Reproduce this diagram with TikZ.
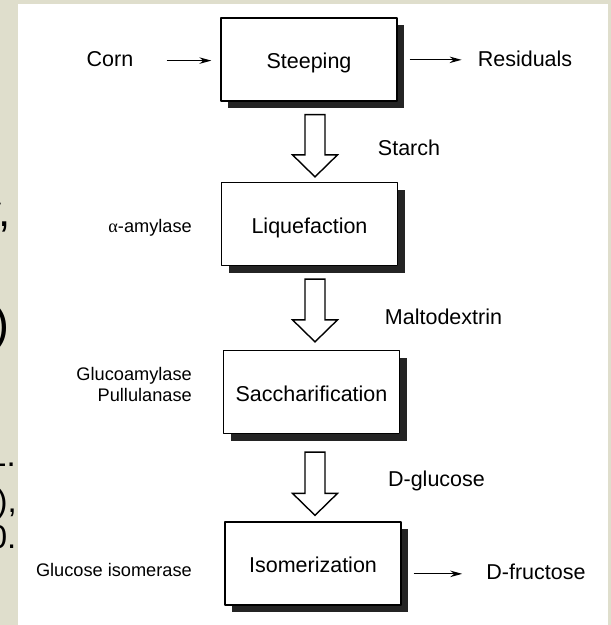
\documentclass[tikz,border=0pt]{standalone}
\usepackage{fontspec}
\setmainfont{Liberation Sans}
\newfontfamily\greekfont{Liberation Serif}
\usetikzlibrary{arrows.meta,shadows,calc}
\definecolor{pagebeige}{RGB}{223,222,204}
\definecolor{shadowgray}{RGB}{36,36,36}

\begin{document}
\begin{tikzpicture}[x=1pt, y=-1pt, line join=round, >={Stealth[length=12pt,width=6.5pt]},
	stage/.style={draw, line width=1.3pt, fill=white, minimum width=176pt, minimum height=83pt, inner sep=0pt,
		text height=18pt, text depth=0pt, font=\fontsize{21.5}{24}\selectfont,
		drop shadow={shadow xshift=7pt, shadow yshift=-7pt, fill=shadowgray, opacity=1}},
	product/.style={inner sep=0pt, anchor=base, font=\fontsize{21.5}{24}\selectfont},
	enzyme/.style={inner sep=0pt, anchor=base east, font=\fontsize{18.2}{20}\selectfont},
	frag/.style={inner sep=0pt, anchor=base east},
	flow/.style={->, line width=1.2pt},
	blockarrow/.style={draw, line width=1.4pt, fill=white, line join=miter,
		to path={let \p1=(\tikztostart), \p2=(\tikztotarget) in
			(\x1-10pt,\y1) -- (\x1+10pt,\y1) -- (\x1+10pt,\y2+22pt) -- (\x1+22.5pt,\y2+22pt)
			-- (\x1,\y2) -- (\x1-22.5pt,\y2+22pt) -- (\x1-10pt,\y2+22pt) -- cycle}}]
	\useasboundingbox (0,0) rectangle (611,625);
	% nền trang
	\fill[pagebeige] (0,0) rectangle (611,625);
	% chữ bị cắt ở mép trái
	\node[frag, font=\fontsize{44}{48}\selectfont] (fy) at (11,226) {y,};
	\node[frag, font=\fontsize{48}{52}\selectfont] (fp) at (10,340) {)};
	\node[frag, font=\fontsize{33}{36}\selectfont] (fone) at (16,466) {1.};
	\node[frag, font=\fontsize{33}{36}\selectfont] (fpc) at (17,512) {),};
	\node[frag, font=\fontsize{33}{36}\selectfont] (fzero) at (16.5,548) {0.};
	\fill[white] (17.5,4) rectangle (608,625);
	
	% các công đoạn
	\node[stage] (steep) at (309,59.5)  {Steeping};
	\node[stage] (liq)   at (309.5,224) {Liquefaction};
	\node[stage] (sacc)  at (311.5,392) {Saccharification};
	\node[stage] (iso)   at (313,563.5) {Isomerization};
	
	% sản phẩm
	\node[product] (corn)   at (110,66)     {Corn};
	\node[product] (resid)  at (525,66)     {Residuals};
	\node[product] (starch) at (409,155)    {Starch};
	\node[product] (malto)  at (443.5,324)  {Maltodextrin};
	\node[product] (dglu)   at (436.5,486.5){D-glucose};
	\node[product] (dfru)   at (536,579.5)  {D-fructose};
	
	% enzym
	\node[enzyme] (amyl)  at (192,232)   {{\greekfont α}-amylase};
	\node[enzyme] (gluco) at (192,380)   {Glucoamylase};
	\node[enzyme] (pullu) at (192,401)   {Pullulanase};
	\node[enzyme] (isom)  at (192,576.5) {Glucose isomerase};
	
	% mũi tên vào / ra
	\draw[flow] ($(corn.east)+(33,2)$) -- ($(steep.west |- corn.east)+(-9,2)$);
	\draw[flow] ($(steep.east |- resid.west)+(12,1.5)$) -- ($(resid.west)+(-16,1.5)$);
	\draw[flow] ($(iso.east |- dfru.west)+(12,2)$) -- ($(dfru.west)+(-24,2)$);
	
	% mũi tên rỗng giữa các công đoạn
	\draw[blockarrow] ($(steep.south)+(6,13)$)  to ($(liq.north)+(6,-5)$);
	\draw[blockarrow] ($(liq.south)+(5.5,13)$)  to ($(sacc.north)+(4,-8)$);
	\draw[blockarrow] ($(sacc.south)+(3.5,18)$) to ($(iso.north)+(2,-6)$);
\end{tikzpicture}
\end{document}
